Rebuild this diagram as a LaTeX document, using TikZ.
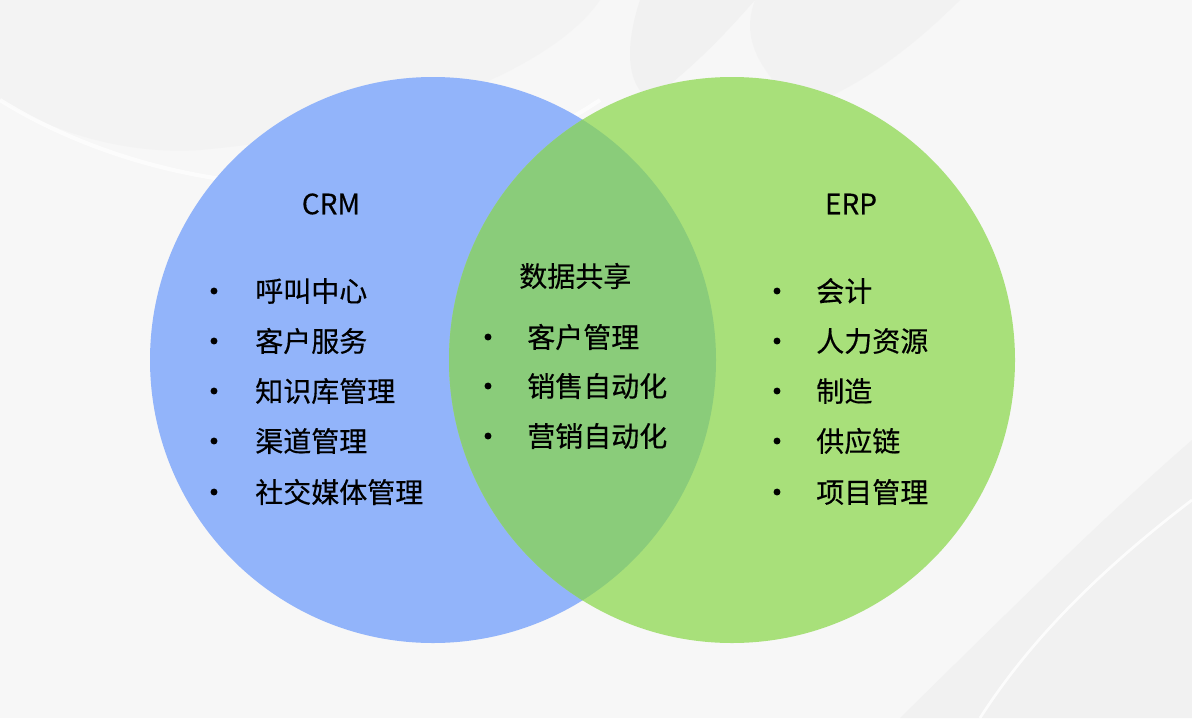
\documentclass[tikz,border=0pt]{standalone}
\usepackage{fontspec}
\setmainfont{Noto Sans CJK SC}[FakeBold=0.4]
\begin{document}
\begin{tikzpicture}[x=0.75pt,y=-0.75pt,
  lbl/.style={font=\fontsize{21}{24}\selectfont, text=black, inner sep=0pt},
  itm/.style={lbl, anchor=west},
  dot/.style={circle, fill=black, inner sep=0pt, minimum size=5.2pt}]
\definecolor{bgc}{HTML}{F7F7F7}
\definecolor{bgdark}{HTML}{F1F1F1}
\definecolor{crmblue}{HTML}{92B4FA}
\definecolor{erpgreen}{HTML}{A8E07A}
\definecolor{overlap}{HTML}{8ACC7A}
% background
\fill[bgc] (0,0) rectangle (1192,718);
\useasboundingbox (0,0) rectangle (1192,718);
\fill[bgdark, opacity=0.6] (0,0) -- (600,0) .. controls (560,60) and (420,130) .. (200,150) .. controls (120,155) and (50,130) .. (0,100) -- cycle;
\draw[white, line width=3pt, opacity=0.7] (0,100) .. controls (80,150) and (200,190) .. (330,185) .. controls (450,180) and (540,140) .. (600,100);
\fill[bgdark] (640,0) -- (755,0) .. controls (720,40) and (690,70) .. (650,100) .. controls (620,80) and (630,30) .. cycle;
\fill[bgdark, opacity=0.7] (755,0) -- (960,0) .. controls (900,60) and (850,90) .. (800,110) .. controls (760,70) and (740,40) .. cycle;
\fill[bgdark] (1192,440) .. controls (1100,520) and (1000,620) .. (900,718) -- (1192,718) -- cycle;
\draw[white, line width=2pt, opacity=0.8] (1192,500) .. controls (1100,570) and (1030,640) .. (980,718);
% circles
\fill[crmblue] (433,360) circle[radius=283];
\fill[erpgreen] (732,360) circle[radius=283];
\begin{scope}
  \clip (433,360) circle[radius=283];
  \fill[overlap] (732,360) circle[radius=283];
\end{scope}
% titles
\node[lbl] (crm) at (331,204) {CRM};
\node[lbl] (erp) at (851,204) {ERP};
\node[lbl, anchor=west] (share) at (519,276) {数据共享};
% left items
\node[dot] (l1d) at (214,291) {}; \node[itm] (l1) at (255,291) {呼叫中心};
\node[dot] (l2d) at (214,341) {}; \node[itm] (l2) at (255,341) {客户服务};
\node[dot] (l3d) at (214,391) {}; \node[itm] (l3) at (255,391) {知识库管理};
\node[dot] (l4d) at (214,441) {}; \node[itm] (l4) at (255,441) {渠道管理};
\node[dot] (l5d) at (214,492) {}; \node[itm] (l5) at (255,492) {社交媒体管理};
% middle items
\node[dot] (m1d) at (488,337) {}; \node[itm] (m1) at (527,337) {客户管理};
\node[dot] (m2d) at (488,386) {}; \node[itm] (m2) at (527,386) {销售自动化};
\node[dot] (m3d) at (488,436) {}; \node[itm] (m3) at (527,436) {营销自动化};
% right items
\node[dot] (r1d) at (777,291) {}; \node[itm] (r1) at (816,291) {会计};
\node[dot] (r2d) at (777,341) {}; \node[itm] (r2) at (816,341) {人力资源};
\node[dot] (r3d) at (777,391) {}; \node[itm] (r3) at (816,391) {制造};
\node[dot] (r4d) at (777,441) {}; \node[itm] (r4) at (816,441) {供应链};
\node[dot] (r5d) at (777,492) {}; \node[itm] (r5) at (816,492) {项目管理};
\end{tikzpicture}
\end{document}
